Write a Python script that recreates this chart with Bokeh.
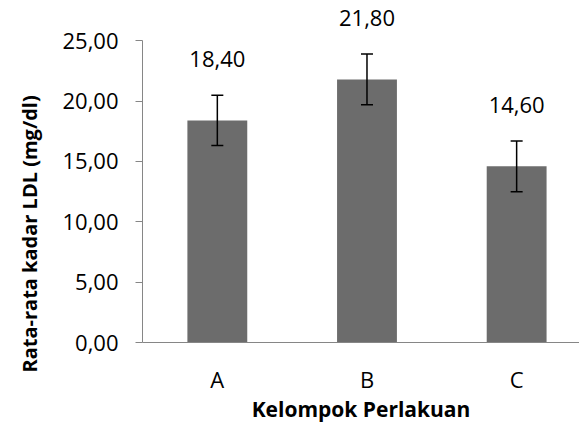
from bokeh.plotting import figure
from bokeh.models import Range1d, FixedTicker, ColumnDataSource, Whisker, TeeHead, Title
from bokeh.core.properties import value
from bokeh.embed import file_html
from bokeh.resources import INLINE

categories = ["A", "B", "C"]
means = [18.40, 21.80, 14.60]
errors = [2.08, 2.10, 2.10]
value_labels = ["18,40", "21,80", "14,60"]
y_ticks = [0, 5, 10, 15, 20, 25]
y_tick_labels = ["0,00", "5,00", "10,00", "15,00", "20,00", "25,00"]

FONT = "Open Sans"
xs = [i + 0.5 for i in range(len(categories))]

p = figure(width=579, height=425, output_backend="svg", toolbar_location=None,
           x_range=Range1d(0, 2.92), y_range=Range1d(0, 28.34),
           min_border_left=140, min_border_right=0, min_border_top=0, min_border_bottom=77)
p.outline_line_color = None
p.grid.visible = False
p.background_fill_color = "white"
p.border_fill_color = "white"

src = ColumnDataSource(dict(x=xs, top=means,
                            upper=[m + e for m, e in zip(means, errors)],
                            lower=[m - e for m, e in zip(means, errors)],
                            lab=value_labels))

p.vbar(x="x", top="top", bottom=0, width=0.4, source=src,
       fill_color="#6c6c6c", line_color=None)

w = Whisker(base="x", upper="upper", lower="lower", source=src, level="annotation",
            line_color="black", line_width=1.5,
            upper_head=TeeHead(size=12, line_color="black", line_width=1.5),
            lower_head=TeeHead(size=12, line_color="black", line_width=1.5))
p.add_layout(w)

p.text(x="x", y="top", text="lab", source=src, y_offset=-61,
       text_align="center", text_baseline="middle",
       text_font=value(FONT), text_font_size="22px", text_color="black")

# y axis
ya = p.yaxis[0]
ya.ticker = FixedTicker(ticks=y_ticks)
ya.major_label_overrides = {t: l for t, l in zip(y_ticks, y_tick_labels)}
ya.bounds = (0, 25)
ya.axis_line_color = "#868686"
ya.major_tick_line_color = "#868686"
ya.major_tick_out = 7
ya.major_tick_in = 0
ya.minor_tick_line_color = None
ya.major_label_standoff = 17
ya.major_label_text_font = FONT
ya.major_label_text_font_size = "22px"
ya.major_label_text_color = "black"

# x axis
xa = p.xaxis[0]
xa.ticker = FixedTicker(ticks=xs)
xa.major_label_overrides = {x: c for x, c in zip(xs, categories)}
xa.axis_line_color = "#868686"
xa.major_tick_line_color = None
xa.minor_tick_line_color = None
xa.major_tick_out = 0
xa.major_label_standoff = 21
xa.major_label_text_font = FONT
xa.major_label_text_font_size = "22px"
xa.major_label_text_color = "black"
xa.axis_label = "Kelompok Perlakuan"
xa.axis_label_text_font = FONT
xa.axis_label_text_font_size = "21px"
xa.axis_label_text_font_style = "bold"
xa.axis_label_text_color = "black"
xa.axis_label_standoff = -2

yt = Title(text="Rata-rata kadar LDL (mg/dl)", text_font=FONT, text_font_size="20px",
           text_font_style="bold", text_color="black", align="left", offset=-30,
           standoff=30, vertical_align="top")
p.add_layout(yt, "left")

open("out.html", "w").write(file_html(p, INLINE))
